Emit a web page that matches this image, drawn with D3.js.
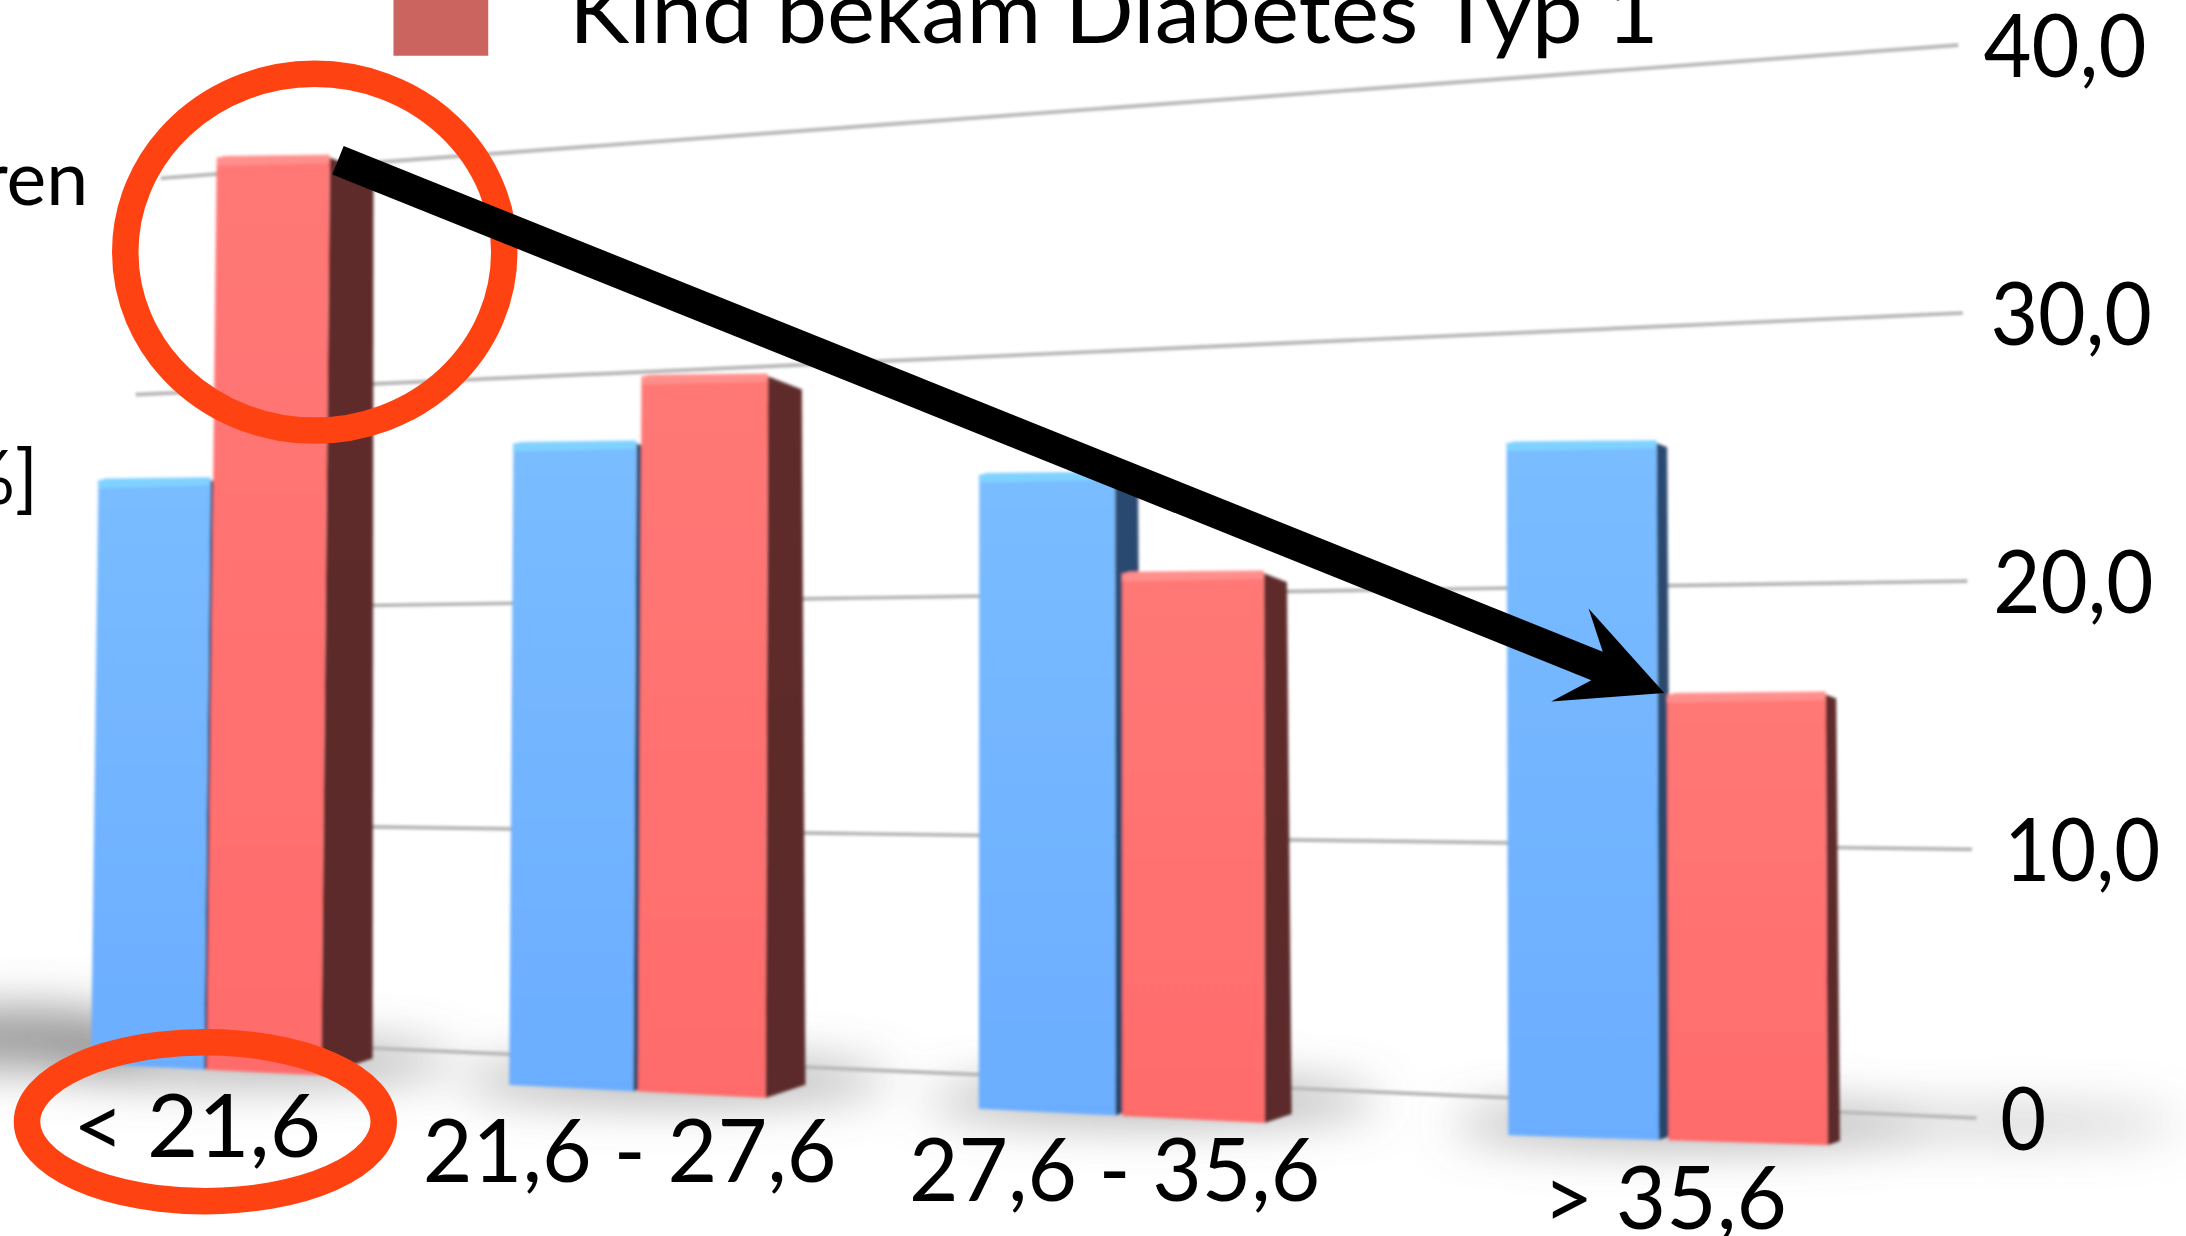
<!DOCTYPE html>
<html><head><meta charset="utf-8">
<script src="https://cdn.jsdelivr.net/npm/d3@7"></script>
<style>html,body{margin:0;padding:0;background:#fff;overflow:hidden}svg{display:block}text{font-family:Lato,"Open Sans",sans-serif;fill:#000}</style>
</head><body><div id="chart"></div>
<script>
const categories = ["< 21,6", "21,6 - 27,6", "27,6 - 35,6", "> 35,6"];
const seriesNames = ["Kind ohne Diabetes", "Kind bekam Diabetes Typ 1"];
const blueValues = [26.0, 27.0, 25.0, 25.6];
const redValues = [40.6, 29.7, 20.8, 15.8];
const tickValues = [0, 10, 20, 30, 40];
const tickLabels = ["0", "10,0", "20,0", "30,0", "40,0"];

const W = 1568, H = 887;
const svg = d3.select("#chart").append("svg").attr("width", 2186).attr("height", 1236).attr("viewBox", `0 0 ${W} ${H}`);
const defs = svg.append("defs");
const blur = (id, s) => defs.append("filter").attr("id", id).attr("x", "-40%").attr("y", "-40%").attr("width", "180%").attr("height", "180%")
  .append("feGaussianBlur").attr("stdDeviation", s);
blur("soft", 1.1); blur("grid", .7); blur("shadow", 17);
const grad = (id, c) => { const g = defs.append("linearGradient").attr("id", id).attr("x1", 0).attr("y1", 0).attr("x2", 0).attr("y2", 1);
  c.forEach((k, i) => g.append("stop").attr("offset", i / (c.length - 1)).attr("stop-color", k)); };
grad("gb", ["#79bcff", "#6badff"]); grad("gr", ["#ff7876", "#ff6b6b"]);
grad("sb", ["#2a4a70", "#274468"]); grad("sr", ["#5f2c2c", "#5b2a2a"]);

// Perspective scales: the wall plane shrinks to the left
const planeBase = d3.scaleLinear().domain([100, 1410]).range([745, 802]);
const unit = d3.scaleLinear().domain([100, 1410]).range([15.4, 19.25]);
const gy = (x, v) => planeBase(x) - v * unit(x);
const frontDrop = d3.scaleLinear().domain([65, 1082, 1320]).range([20, 27, 24]);
const groupX = d3.scaleLinear().domain([0, 1, 2, 3]).range([65, 365, 702, 1082]);
const barW = d3.scaleLinear().domain([65, 1082]).range([83, 115]);
const seam = d3.scaleLinear().domain([65, 1082]).range([2, 7]);
const depth = d3.scaleLinear().domain([65, 1082]).range([37, 9]);
const lean = d3.scaleLinear().domain([65, 750, 1300]).range([.2, 0, -.08]);
const gridEndX = d3.scaleLinear().domain([0, 40]).range([1418, 1405]);
const gridStartX = d3.scaleOrdinal().domain(tickValues).range([170, 170, 170, 97, 115]);

// Floor shadows
const shadow = svg.append("g").attr("filter", "url(#shadow)");
categories.forEach((c, i) => {
  const x = groupX(i), w = barW(x) * 2 + depth(x);
  shadow.append("ellipse").attr("cx", x + w / 2 + 12).attr("cy", planeBase(x + w / 2) + 14)
    .attr("rx", w * .72).attr("ry", 15).attr("fill", "#777").attr("opacity", .6);
});
shadow.append("ellipse").attr("cx", 15).attr("cy", 745).attr("rx", 95).attr("ry", 20).attr("fill", "#666").attr("opacity", .72);
shadow.append("ellipse").attr("cx", 1450).attr("cy", 806).attr("rx", 115).attr("ry", 10).attr("fill", "#888").attr("opacity", .45);

// Grid
svg.append("g").attr("filter", "url(#grid)").selectAll("line").data(tickValues).join("line")
  .attr("x1", d => gridStartX(d)).attr("y1", d => gy(gridStartX(d), d))
  .attr("x2", d => gridEndX(d)).attr("y2", d => gy(gridEndX(d), d))
  .attr("stroke", "#bdbdbd").attr("stroke-width", 3);

// Tick labels
const labelX = d3.scaleOrdinal().domain(tickValues).range([1435, 1438, 1430, 1428, 1423]);
const labelLen = d3.scaleOrdinal().domain(tickValues).range([33, 112, 115, 116, 117]);
svg.append("g").selectAll("text").data(tickValues).join("text")
  .attr("x", d => labelX(d)).attr("y", d => gy(1410, d) + 23)
  .attr("font-size", 63).attr("textLength", d => labelLen(d)).attr("lengthAdjust", "spacingAndGlyphs")
  .text((d, i) => tickLabels[i]);

// Bars
function bar(g, i, v, x0, w, front, side, top) {
  const drop = x => frontDrop(x);
  const yTop = gy(x0 + w / 2, v), yBotL = gy(x0, 0) + drop(x0), yBotR = gy(x0 + w, 0) + drop(x0 + w);
  const l = lean(x0) * v, lr = lean(x0 + w) * v, d = depth(groupX(i));
  const xL = x0 + l, xR = x0 + w + lr, dTop = d * .85, rise = d * .33;
  const line = d3.line();
  g.append("path").attr("fill", `url(#${side})`).attr("d", line([[xR, yTop], [xR + dTop, yTop + rise], [x0 + w + d, yBotR - rise], [x0 + w, yBotR]]) + "Z");
  g.append("path").attr("fill", `url(#${front})`).attr("d", line([[xL, yTop], [xR, yTop - 1], [x0 + w, yBotR], [x0, yBotL]]) + "Z");
  g.append("path").attr("fill", top).attr("d", line([[xL, yTop + 1], [xL + 5, yTop - 1], [xR, yTop - 2], [xR - 1, yTop + 4], [xL, yTop + 6]]) + "Z");
  return { xL, xR, yTop };
}
const bars = svg.append("g").attr("filter", "url(#soft)");
const tops = [];
categories.forEach((c, i) => {
  const x = groupX(i), w = barW(x);
  bar(bars, i, blueValues[i], x, w - seam(x), "gb", "sb", "#7fd2ff");
});
categories.forEach((c, i) => {
  const x = groupX(i), w = barW(x);
  tops.push(bar(bars, i, redValues[i], x + w, w - 1, "gr", "sr", "#ff8f8c"));
});

// Category labels
const catX = d3.scaleOrdinal().domain(categories).range([52, 303, 652, 1107]);
const catY = d3.scaleOrdinal().domain(categories).range([830, 848, 862, 882]);
const catLen = d3.scaleOrdinal().domain(categories).range([178, 297, 295, 175]);
svg.append("g").selectAll("text").data(categories).join("text")
  .attr("x", d => catX(d)).attr("y", d => catY(d)).attr("font-size", 63)
  .attr("textLength", d => catLen(d)).attr("lengthAdjust", "spacingAndGlyphs").text(d => d);

// Legend and clipped axis title fragments
svg.append("rect").attr("x", 282).attr("y", -30).attr("width", 68).attr("height", 70).attr("fill", "#cb645e");
svg.append("text").attr("x", 408).attr("y", 31).attr("font-size", 63).attr("textLength", 782).attr("lengthAdjust", "spacingAndGlyphs").text(seriesNames[1]);
svg.append("text").attr("x", 63).attr("y", 147).attr("text-anchor", "end").attr("font-size", 54).text("ren");
svg.append("text").attr("x", 27).attr("y", 362).attr("text-anchor", "end").attr("font-size", 54).text("[%]");

// Highlight circles
svg.append("ellipse").attr("cx", 225.5).attr("cy", 181).attr("rx", 136).attr("ry", 128).attr("fill", "none").attr("stroke", "#ff4212").attr("stroke-width", 19);
svg.append("ellipse").attr("cx", 147).attr("cy", 805).attr("rx", 128).attr("ry", 57).attr("fill", "none").attr("stroke", "#ff4212").attr("stroke-width", 19);

// Arrow from the first red bar to the last red bar
const A = [tops[0].xR + 6, tops[0].yTop + 2], T = [tops[3].xL - 2, tops[3].yTop - 1];
const len = Math.hypot(T[0] - A[0], T[1] - A[1]);
const ux = (T[0] - A[0]) / len, uy = (T[1] - A[1]) / len, nx = -uy, ny = ux;
const at = (a, n) => [T[0] + ux * a + nx * n, T[1] + uy * a + ny * n];
const sw = 11;
svg.append("path").attr("fill", "#000").attr("d", d3.line()([
  [A[0] + nx * -sw, A[1] + ny * -sw], at(-52, -sw), at(-73, -36), T, at(-73, 36), at(-52, sw), [A[0] + nx * sw, A[1] + ny * sw]
]) + "Z");
</script></body></html>
